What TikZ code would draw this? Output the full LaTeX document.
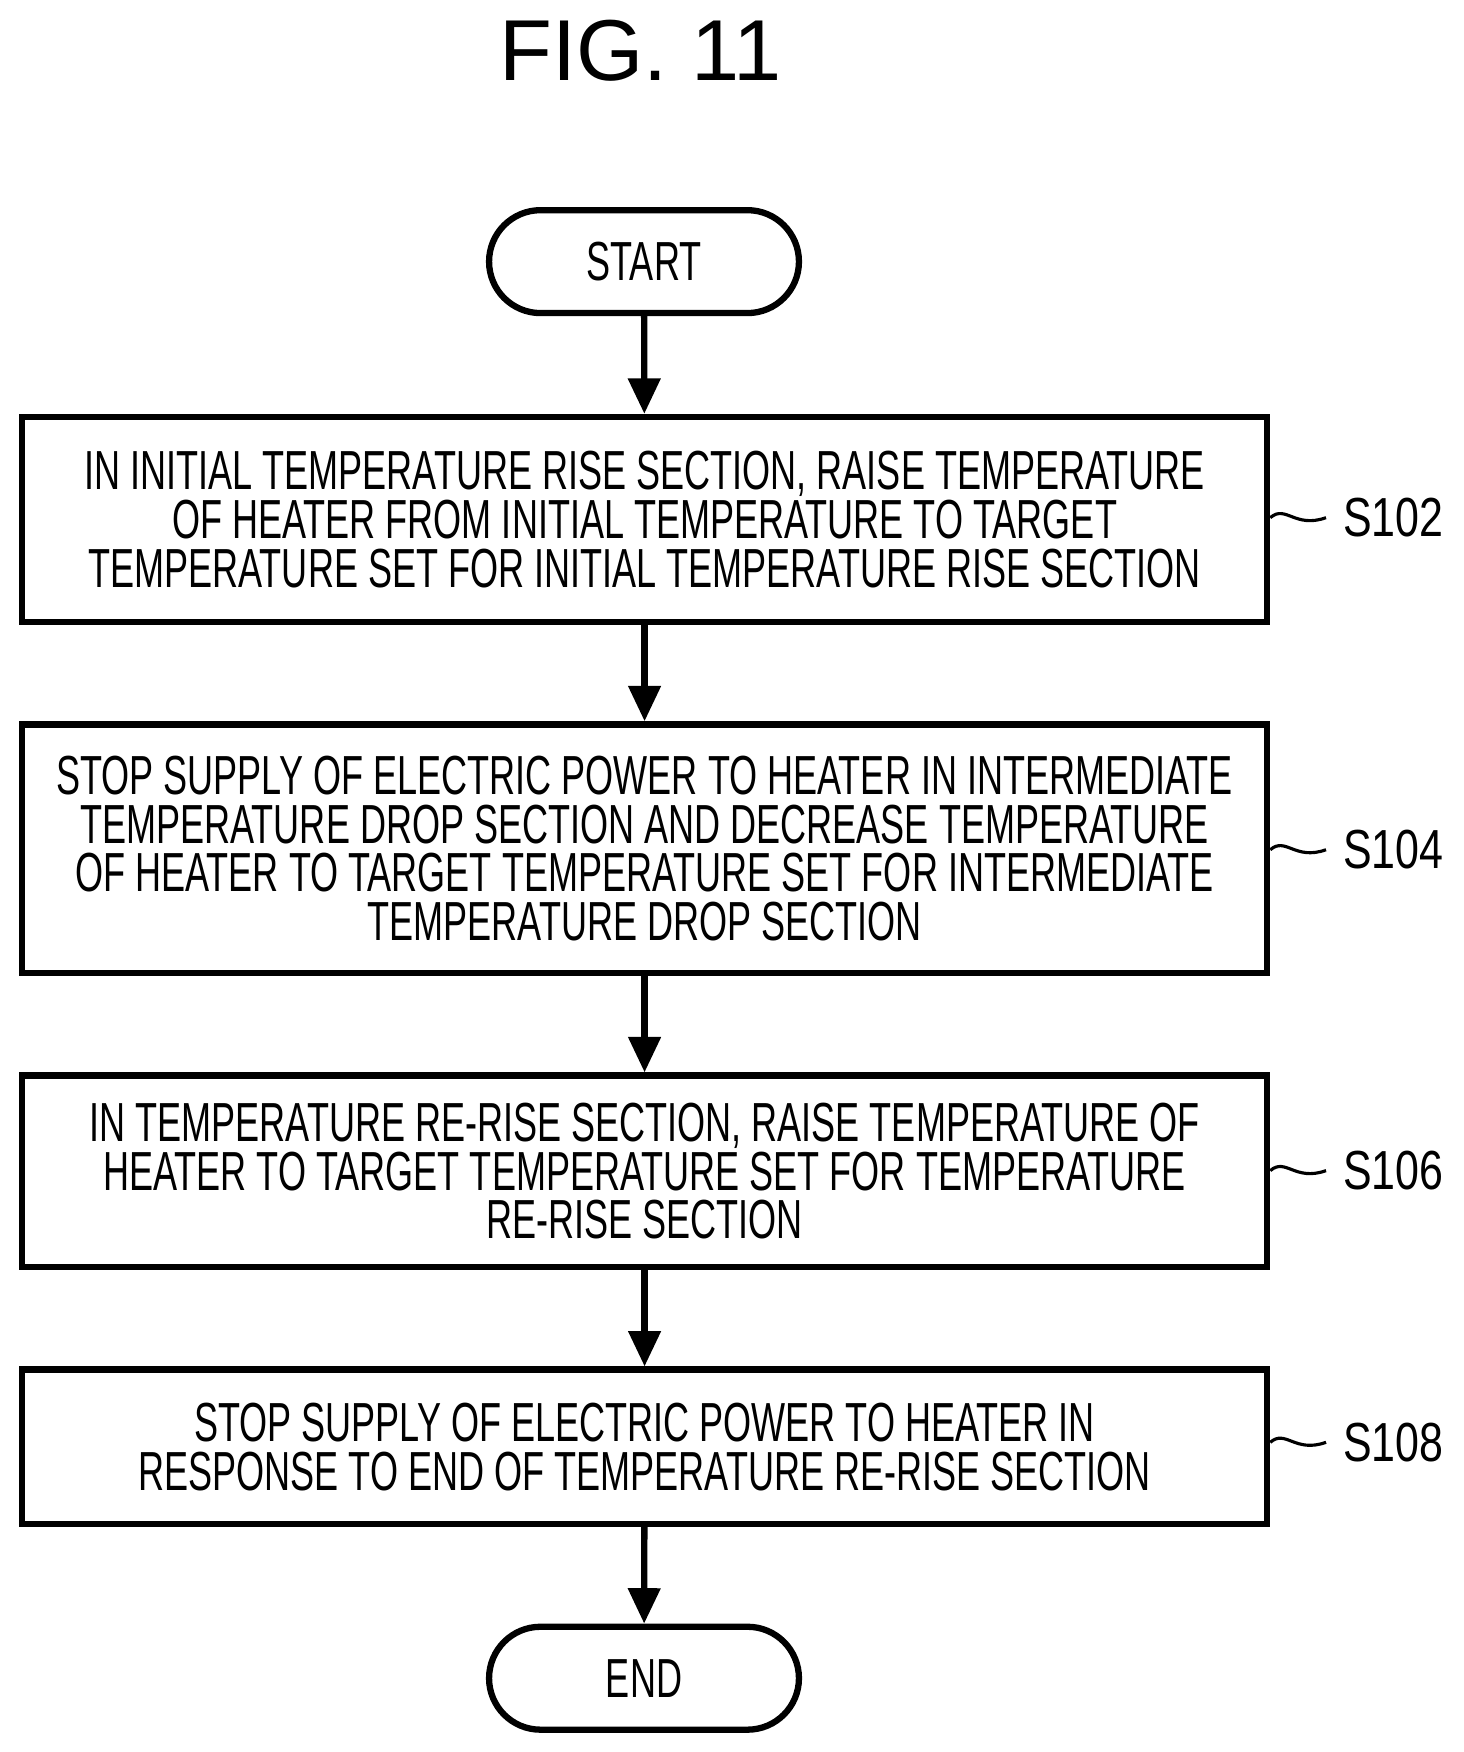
\documentclass[tikz,border=0pt]{standalone}
\usepackage{fontspec}
\setmainfont{Liberation Sans}
\newfontfamily\narrowf{Liberation Sans}[FakeStretch=0.655]
\newfontfamily\labf{Liberation Sans}[FakeStretch=0.78]
\usetikzlibrary{arrows.meta,shapes.misc}
\begin{document}
\begin{tikzpicture}[x=0.01cm,y=-0.01cm,
  box/.style={draw,line width=1.6pt,minimum width=11.13cm,minimum height=#1,inner sep=0pt,align=center,font=\narrowf\fontsize{14}{12.4}\selectfont},
  term/.style={draw,line width=1.6pt,rounded rectangle,minimum width=2.77cm,minimum height=0.92cm,inner sep=0pt,font=\narrowf\fontsize{14}{14}\selectfont},
  arr/.style={line width=1.6pt,-{Triangle[length=9pt,width=8pt]}},
  lab/.style={font=\labf\fontsize{14}{14}\selectfont,anchor=west},
  sq/.style={line width=0.8pt}]
\useasboundingbox (0,0) rectangle (1308.6,1567);
\node (title) at (573,45) {\fontsize{22}{22}\selectfont FIG. 11};
\node[term] (start) at (576,234) {START};
\node[box=1.83cm] (b1) at (576.5,464.5) {IN INITIAL TEMPERATURE RISE SECTION, RAISE TEMPERATURE\\OF HEATER FROM INITIAL TEMPERATURE TO TARGET\\TEMPERATURE SET FOR INITIAL TEMPERATURE RISE SECTION};
\node[box=2.22cm] (b2) at (576.5,759) {STOP SUPPLY OF ELECTRIC POWER TO HEATER IN INTERMEDIATE\\TEMPERATURE DROP SECTION AND DECREASE TEMPERATURE\\OF HEATER TO TARGET TEMPERATURE SET FOR INTERMEDIATE\\TEMPERATURE DROP SECTION};
\node[box=1.71cm] (b3) at (576.5,1047.5) {IN TEMPERATURE RE-RISE SECTION, RAISE TEMPERATURE OF\\HEATER TO TARGET TEMPERATURE SET FOR TEMPERATURE\\RE-RISE SECTION};
\node[box=1.38cm] (b4) at (576.5,1294) {STOP SUPPLY OF ELECTRIC POWER TO HEATER IN\\RESPONSE TO END OF TEMPERATURE RE-RISE SECTION};
\node[term] (end) at (576,1501) {END};
\draw[arr] (start) -- (b1);
\draw[arr] (b1) -- (b2);
\draw[arr] (b2) -- (b3);
\draw[arr] (b3) -- (b4);
\draw[arr] (b4) -- (end);
\foreach \b/\t/\y in {b1/S102/463,b2/S104/760,b3/S106/1047,b4/S108/1290}{
  \node[lab] (l\t) at (1189,\y) {\t};
  \draw[sq] (\b.east |- 0,\y) .. controls (1150,\y-12) and (1158,\y+10) .. (1186,\y);
}
\end{tikzpicture}
\end{document}
